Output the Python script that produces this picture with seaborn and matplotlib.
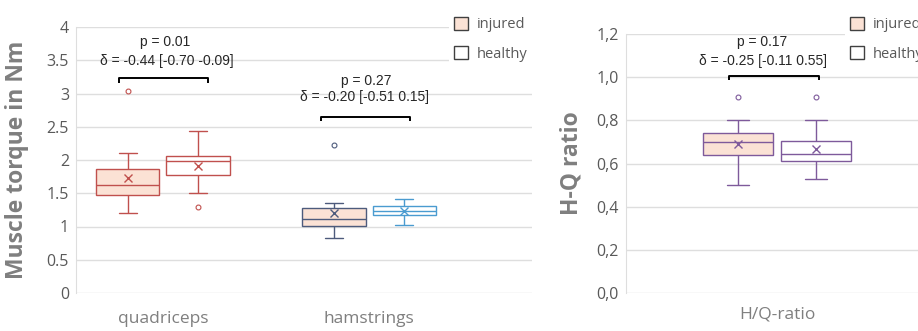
import matplotlib
matplotlib.use("Agg")
import matplotlib.pyplot as plt
import pandas as pd
import seaborn as sns
from matplotlib.patches import Patch

# values: 9 per group -> whisker ends, quartiles, median, outliers
quad_injured = [1.20, 1.21, 1.47, 1.48, 1.63, 1.64, 1.86, 2.10, 3.04]
quad_healthy = [1.29, 1.50, 1.77, 1.95, 1.99, 2.02, 2.06, 2.17, 2.44]
ham_injured = [0.83, 0.85, 1.01, 1.03, 1.11, 1.11, 1.28, 1.35, 2.23]
ham_healthy = [1.03, 1.12, 1.17, 1.21, 1.24, 1.27, 1.31, 1.39, 1.42]
hq_injured = [0.50, 0.55, 0.64, 0.66, 0.70, 0.71, 0.74, 0.80, 0.91]
hq_healthy = [0.53, 0.53, 0.61, 0.61, 0.645, 0.645, 0.705, 0.80, 0.91]

muscles = ["quadriceps", "hamstrings"]
ratio_cat = ["H/Q-ratio"]
groups = ["injured", "healthy"]

p_labels = ["p = 0.01", "p = 0.27"]
d_labels = ["δ = -0.44 [-0.70 -0.09]", "δ = -0.20 [-0.51 0.15]"]
hq_p = "p = 0.17"
hq_d = "δ = -0.25 [-0.11 0.55]"

torque_ticks = [0, 0.5, 1, 1.5, 2, 2.5, 3, 3.5, 4]
ratio_ticks = [0.0, 0.2, 0.4, 0.6, 0.8, 1.0, 1.2]

fills = {"injured": "#FBE2D5", "healthy": "white"}
red = "#C0504D"
navy = "#4D5B7C"
lblue = "#4A9BD0"
purple = "#7E5A9B"
tick_col = "#595959"
grid_col = "#DEDEDE"

sns.set_style("white")
plt.rcParams["font.family"] = ["Open Sans", "DejaVu Sans"]


def draw_box(ax, cat, order, group, values, edge, width, capw):
    df = pd.DataFrame({"cat": cat, "group": group, "value": values})
    sns.boxplot(data=df, x="cat", y="value", hue="group", order=order,
                hue_order=groups, palette=fills, saturation=1, dodge=True,
                width=width, gap=0.1, linecolor=edge, linewidth=1.0, whis=1.5,
                showmeans=True, capwidths=capw,
                meanprops=dict(marker="x", markeredgecolor=edge, markersize=5.5,
                               markeredgewidth=1.0),
                flierprops=dict(marker="o", markersize=3.5, markerfacecolor="white",
                                markeredgecolor=edge, markeredgewidth=0.8),
                legend=False, ax=ax)


def bracket(ax, x0, x1, y, drop):
    ax.plot([x0, x0, x1, x1], [y - drop, y, y, y - drop], color="black", lw=1.4,
            solid_capstyle="butt", clip_on=False)


def style_axes(ax, ylab, ylab_x):
    ax.yaxis.grid(True, color=grid_col, lw=1)
    ax.xaxis.grid(False)
    ax.set_axisbelow(True)
    for s in ["top", "right", "bottom"]:
        ax.spines[s].set_visible(False)
    ax.spines["left"].set_color(grid_col)
    ax.tick_params(axis="y", length=0, pad=5, labelsize=11.5, labelcolor=tick_col)
    ax.tick_params(axis="x", length=0, labelsize=12.5, labelcolor="#7F7F7F")
    ax.set_xlabel("")
    ax.set_ylabel(ylab, fontsize=16.5, fontweight="bold", color="#7F7F7F")
    ax.yaxis.set_label_coords(ylab_x, 0.5)


def add_legend(ax, x, y):
    handles = [Patch(facecolor=fills[g], edgecolor="#404040", lw=1.0, label=g) for g in groups]
    leg = ax.legend(handles=handles, loc="upper left", bbox_to_anchor=(x, y),
                    bbox_transform=ax.figure.transFigure, frameon=True,
                    facecolor="white", edgecolor="none", framealpha=1,
                    handlelength=1.0, handleheight=1.0, handletextpad=0.6,
                    labelspacing=0.95, fontsize=10.5, borderpad=0.3)
    for t in leg.get_texts():
        t.set_color(tick_col)


fig = plt.figure(figsize=(9.18, 3.31), dpi=100)

txt = dict(ha="center", va="center", fontsize=10, family=["Liberation Sans", "DejaVu Sans"])

# ---- left panel: muscle torque
ax1 = fig.add_axes([76 / 918, 38 / 331, 456 / 918, 266 / 331])
draw_box(ax1, "quadriceps", muscles, "injured", quad_injured, red, 0.68, 0.09)
draw_box(ax1, "quadriceps", muscles, "healthy", quad_healthy, red, 0.68, 0.09)
draw_box(ax1, "hamstrings", muscles, "injured", ham_injured, navy, 0.68, 0.09)
draw_box(ax1, "hamstrings", muscles, "healthy", ham_healthy, lblue, 0.68, 0.09)
ax1.set_xlim(-0.422, 1.791)
ax1.set_ylim(0, 4)
ax1.set_yticks(torque_ticks)
ax1.set_yticklabels([f"{t:g}" for t in torque_ticks])
style_axes(ax1, "Muscle torque in Nm", -0.103)
ax1.tick_params(axis="x", pad=13)

ax1.text(0.01, 3.77, p_labels[0], **txt)
ax1.text(0.02, 3.49, d_labels[0], **txt)
bracket(ax1, -0.214, 0.218, 3.23, 0.07)
ax1.text(1 - 0.015, 3.19, p_labels[1], **txt)
ax1.text(1 - 0.02, 2.95, d_labels[1], **txt)
bracket(ax1, 1 - 0.233, 1 + 0.199, 2.65, 0.07)
add_legend(ax1, 442 / 918, 1 - 5 / 331)

# ---- right panel: H/Q ratio
ax2 = fig.add_axes([626 / 918, 38 / 331, 292 / 918, 259 / 331])
draw_box(ax2, "H/Q-ratio", ratio_cat, "injured", hq_injured, purple, 0.8, 0.11)
draw_box(ax2, "H/Q-ratio", ratio_cat, "healthy", hq_healthy, purple, 0.8, 0.11)
ax2.set_xlim(-0.774, 0.723)
ax2.set_ylim(0, 1.2)
ax2.set_yticks(ratio_ticks)
ax2.set_yticklabels([f"{t:.1f}".replace(".", ",") for t in ratio_ticks])
style_axes(ax2, "H-Q ratio", -0.144)
ax2.tick_params(axis="x", pad=10)
ax2.text(-0.077, 1.163, hq_p, **txt)
ax2.text(-0.072, 1.075, hq_d, **txt)
bracket(ax2, -0.246, 0.215, 1.006, 0.019)
add_legend(ax2, 838 / 918, 1 - 5 / 331)

fig.savefig("out.png", dpi=100)
